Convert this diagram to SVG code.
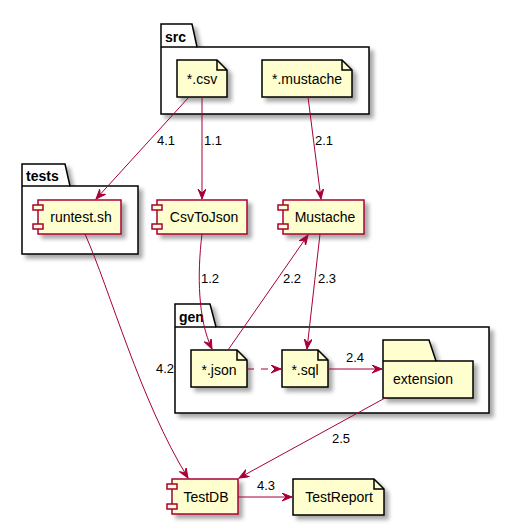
<svg xmlns="http://www.w3.org/2000/svg" width="510" height="526" viewBox="0 0 510 526">
<defs>
<filter id="sh" x="-10%" y="-10%" width="130%" height="140%">
<feGaussianBlur in="SourceAlpha" stdDeviation="2"/>
<feOffset dx="4" dy="4" result="b"/>
<feComponentTransfer><feFuncA type="linear" slope="0.35"/></feComponentTransfer>
<feMerge><feMergeNode/><feMergeNode in="SourceGraphic"/></feMerge>
</filter>
<marker id="ah" markerUnits="userSpaceOnUse" markerWidth="12" markerHeight="10" refX="10" refY="4" orient="auto">
<path d="M0,0 L10,4 L0,8 L4,4 Z" fill="#A80036" stroke="#A80036" stroke-width="1"/>
</marker>
</defs>
<style>
.pkg{fill:#FFFFFF;stroke:#000000;stroke-width:1.5}
.pt{font-family:"Liberation Sans",Arial,sans-serif;font-size:14px;font-weight:bold;fill:#000}
.note{fill:#FEFECE;stroke:#000000;stroke-width:1.5}
.fold{fill:none;stroke:#000000;stroke-width:1.5}
.comp{fill:#FEFECE;stroke:#A80036;stroke-width:1.5}
.t{font-family:"Liberation Sans",Arial,sans-serif;font-size:14px;fill:#000}
.l{font-family:"Liberation Sans",Arial,sans-serif;font-size:13px;fill:#000}
.c{text-anchor:middle}
.e{fill:none;stroke:#A80036;stroke-width:1;marker-end:url(#ah)}
</style>
<rect width="510" height="526" fill="#FFFFFF"/>

<g id="src">
<path class="pkg" filter="url(#sh)" d="M161,24 L192,24 L197,47 L369,47 L369,114 L161,114 Z"/>
<line x1="161" y1="47" x2="197" y2="47" stroke="#000" stroke-width="1.5"/>
<text class="pt" x="165" y="42">src</text>
</g>
<g id="tests">
<path class="pkg" filter="url(#sh)" d="M22,164 L65,164 L70,186 L138,186 L138,254 L22,254 Z"/>
<line x1="22" y1="186" x2="70" y2="186" stroke="#000" stroke-width="1.5"/>
<text class="pt" x="26" y="181">tests</text>
</g>
<g id="gen">
<path class="pkg" filter="url(#sh)" d="M175,304 L210,304 L216,327 L489,327 L489,413 L175,413 Z"/>
<line x1="175" y1="327" x2="216" y2="327" stroke="#000" stroke-width="1.5"/>
<text class="pt" x="179" y="322">gen</text>
</g>

<g id="csv">
<path class="note" filter="url(#sh)" d="M177,60 L217,60 L227,70 L227,97 L177,97 Z"/>
<path class="fold" d="M217,60 L217,70 L227,70"/>
<text class="t c" x="202" y="84">*.csv</text>
</g>
<g id="mustache-file">
<path class="note" filter="url(#sh)" d="M262,60 L342,60 L352,70 L352,97 L262,97 Z"/>
<path class="fold" d="M342,60 L342,70 L352,70"/>
<text class="t c" x="307" y="84">*.mustache</text>
</g>
<g id="runtest">
<rect class="comp" filter="url(#sh)" x="38" y="200" width="83" height="34"/>
<rect class="comp" x="33" y="205" width="10" height="5"/>
<rect class="comp" x="33" y="224" width="10" height="5"/>
<text class="t c" x="81" y="222">runtest.sh</text>
</g>
<g id="csvtojson">
<rect class="comp" filter="url(#sh)" x="157" y="200" width="90" height="34"/>
<rect class="comp" x="152" y="205" width="10" height="5"/>
<rect class="comp" x="152" y="224" width="10" height="5"/>
<text class="t c" x="204" y="222">CsvToJson</text>
</g>
<g id="mustache">
<rect class="comp" filter="url(#sh)" x="283" y="200" width="81" height="34"/>
<rect class="comp" x="278" y="205" width="10" height="5"/>
<rect class="comp" x="278" y="224" width="10" height="5"/>
<text class="t c" x="325" y="222">Mustache</text>
</g>
<g id="json">
<path class="note" filter="url(#sh)" d="M191,350 L237,350 L247,360 L247,387 L191,387 Z"/>
<path class="fold" d="M237,350 L237,360 L247,360"/>
<text class="t c" x="219" y="375">*.json</text>
</g>
<g id="sql">
<path class="note" filter="url(#sh)" d="M282,350 L318,350 L328,360 L328,387 L282,387 Z"/>
<path class="fold" d="M318,350 L318,360 L328,360"/>
<text class="t c" x="305" y="375">*.sql</text>
</g>
<g id="extension">
<path class="note" filter="url(#sh)" d="M383,340 L429,340 L436,361 L473,361 L473,398 L383,398 Z"/>
<line x1="383" y1="361" x2="436" y2="361" stroke="#000" stroke-width="1.5"/>
<text class="t" x="393" y="384">extension</text>
</g>
<g id="testdb">
<rect class="comp" filter="url(#sh)" x="172" y="479" width="66" height="35"/>
<rect class="comp" x="167" y="484" width="10" height="5"/>
<rect class="comp" x="167" y="504" width="10" height="5"/>
<text class="t c" x="206" y="502">TestDB</text>
</g>
<g id="testreport">
<path class="note" filter="url(#sh)" d="M293,479 L374,479 L384,489 L384,515 L293,515 Z"/>
<path class="fold" d="M374,479 L374,489 L384,489"/>
<text class="t c" x="339" y="502">TestReport</text>
</g>

<g id="connectors">
<path class="e" d="M189,97 L96,199"/>
<path class="e" d="M202,97 L202,199"/>
<path class="e" d="M308,97 L321,199"/>
<path class="e" d="M202,234 C197,275 198,320 212,349"/>
<path class="e" d="M228,350 L308,235"/>
<path class="e" d="M320,234 L307,349"/>
<path class="e" d="M247,369 L281,369" stroke-dasharray="7,7"/>
<path class="e" d="M328,369 L382,369"/>
<path class="e" d="M85,234 C110,290 140,400 188,478"/>
<path class="e" d="M385,398 L239,478"/>
<path class="e" d="M238,497 L292,497"/>
<text class="l" x="157" y="145">4.1</text>
<text class="l" x="204" y="145">1.1</text>
<text class="l" x="315" y="145">2.1</text>
<text class="l" x="201" y="283">1.2</text>
<text class="l" x="283" y="283">2.2</text>
<text class="l" x="318" y="283">2.3</text>
<text class="l" x="346" y="362">2.4</text>
<text class="l" x="156" y="373">4.2</text>
<text class="l" x="332" y="443">2.5</text>
<text class="l" x="257" y="490">4.3</text>
</g>
</svg>
